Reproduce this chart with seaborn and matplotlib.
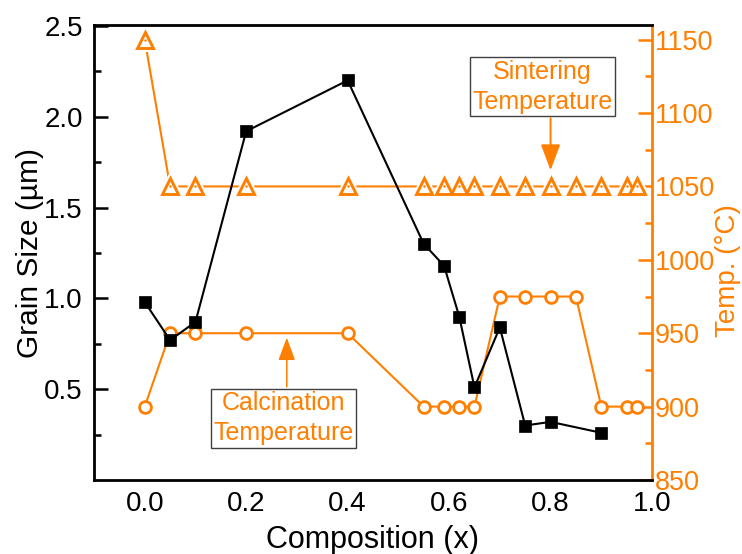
import numpy as np
import pandas as pd
import matplotlib
matplotlib.use("Agg")
import matplotlib.pyplot as plt
import seaborn as sns

# ---- data ----
grain_x = [0.0, 0.05, 0.1, 0.2, 0.4, 0.55, 0.59, 0.62, 0.65, 0.7, 0.75, 0.8, 0.9]
grain_size = [0.98, 0.77, 0.87, 1.92, 2.20, 1.30, 1.18, 0.90, 0.51, 0.84, 0.30, 0.32, 0.26]

temp_x = [0.0, 0.05, 0.1, 0.2, 0.4, 0.55, 0.59, 0.62, 0.65, 0.7, 0.75, 0.8, 0.85, 0.9, 0.95, 0.97]
sintering_temp = [1150, 1050, 1050, 1050, 1050, 1050, 1050, 1050, 1050, 1050, 1050, 1050, 1050, 1050, 1050, 1050]
calcination_temp = [900, 950, 950, 950, 950, 900, 900, 900, 900, 975, 975, 975, 975, 900, 900, 900]

x_ticks = [0.0, 0.2, 0.4, 0.6, 0.8, 1.0]
x_minor = [0.1, 0.3, 0.5, 0.7, 0.9]
left_ticks = [0.5, 1.0, 1.5, 2.0, 2.5]
left_minor = [0.25, 0.75, 1.25, 1.75, 2.25]
right_ticks = [850, 900, 950, 1000, 1050, 1100, 1150]
right_minor = [875, 925, 975, 1025, 1075, 1125]

ORANGE = "#FF7F00"

sns.set_theme(style="white")
plt.rcParams["font.family"] = ["Liberation Sans", "DejaVu Sans"]

grain_df = pd.DataFrame({"x": grain_x, "size": grain_size})
temp_df = pd.DataFrame({"x": temp_x, "sint": sintering_temp, "calc": calcination_temp})

W, H = 742, 554
fig = plt.figure(figsize=(W / 100, H / 100), dpi=100)
ax = fig.add_axes([94 / W, 74 / H, 558 / W, 455 / H])
ax2 = ax.twinx()
ax.set_zorder(ax2.get_zorder() + 1)
ax.patch.set_visible(False)

# grain size (left axis)
sns.lineplot(data=grain_df, x="x", y="size", ax=ax, sort=False, color="black",
             lw=1.5, marker="s", markersize=8.8, markerfacecolor="black",
             markeredgecolor="black", markeredgewidth=0.5, zorder=5)

# sintering temperature (right axis) with Origin-like gaps around markers
sns.lineplot(data=temp_df, x="x", y="sint", ax=ax2, sort=False, color=ORANGE,
             lw=1.5, zorder=2)
sns.lineplot(data=temp_df, x="x", y="sint", ax=ax2, sort=False, color="white",
             linestyle="", marker="^", markersize=11, markerfacecolor="white",
             markeredgecolor="white", markeredgewidth=5, zorder=3)
sns.lineplot(data=temp_df, x="x", y="sint", ax=ax2, sort=False, color=ORANGE,
             linestyle="", marker="^", markersize=11, markerfacecolor="white",
             markeredgecolor=ORANGE, markeredgewidth=2.1, zorder=4)
sns.lineplot(data=temp_df, x="x", y="sint", ax=ax2, sort=False, color=ORANGE,
             linestyle="", marker="o", markersize=1.8, markerfacecolor=ORANGE,
             markeredgecolor=ORANGE, markeredgewidth=0, zorder=4)

# calcination temperature (right axis)
sns.lineplot(data=temp_df, x="x", y="calc", ax=ax2, sort=False, color=ORANGE,
             lw=1.5, marker="o", markersize=8.5, markerfacecolor="white",
             markeredgecolor=ORANGE, markeredgewidth=2.0, zorder=4)

# axes limits / ticks
ax.set_xlim(-0.1, 1.0)
ax.set_ylim(0.0, 2.505)
ax2.set_ylim(850, 1160)
ax.set_xticks(x_ticks)
ax.set_xticks(x_minor, minor=True)
ax.set_xticklabels([f"{v:.1f}" for v in x_ticks])
ax.set_yticks(left_ticks)
ax.set_yticks(left_minor, minor=True)
ax.set_yticklabels([f"{v:.1f}" for v in left_ticks])
ax2.set_yticks(right_ticks)
ax2.set_yticks(right_minor, minor=True)
ax2.set_yticklabels([str(v) for v in right_ticks])

ax.tick_params(axis="both", which="major", direction="in", length=10, width=1.8,
               labelsize=20, color="black", labelcolor="black", pad=8)
ax.tick_params(axis="both", which="minor", direction="in", length=5, width=1.8,
               color="black")
ax.tick_params(axis="y", which="both", right=False)
ax.tick_params(axis="x", which="both", top=False)
ax2.tick_params(axis="y", which="major", direction="in", length=10, width=1.8,
                labelsize=19.5, color=ORANGE, labelcolor=ORANGE, pad=2)
ax2.tick_params(axis="y", which="minor", direction="in", length=5, width=1.8,
                color=ORANGE)

for s in ["left", "bottom", "top"]:
    ax.spines[s].set_color("black")
    ax.spines[s].set_linewidth(2.0)
ax.spines["right"].set_visible(False)
for s in ["left", "bottom", "top"]:
    ax2.spines[s].set_visible(False)
ax2.spines["right"].set_color(ORANGE)
ax2.spines["right"].set_linewidth(2.0)

ax.set_xlabel("Composition (x)", fontsize=22, color="black", labelpad=6)
ax.set_ylabel("Grain Size (\u00b5m)", fontsize=21.5, color="black", labelpad=0)
ax2.set_ylabel("Temp. (\u00b0C)", fontsize=20, color=ORANGE)
ax2.yaxis.set_label_coords((715 - 94) / 558, 0.46)

box = dict(boxstyle="square,pad=0.1", facecolor="white", edgecolor="#404040", lw=1.0)

# annotations
ax2.text(0.784, 1118, "Sintering\nTemperature", ha="center", va="center",
         fontsize=18, color=ORANGE, bbox=box, linespacing=1.33, zorder=10)
ax2.annotate("", xy=(0.8, 1061), xytext=(0.8, 1096.5),
             arrowprops=dict(arrowstyle="-|>,head_length=0.8,head_width=0.3",
                             mutation_scale=20, color=ORANGE, lw=1.4,
                             shrinkA=0, shrinkB=0), zorder=10)
ax2.text(0.274, 892, "Calcination\nTemperature", ha="center", va="center",
         fontsize=18, color=ORANGE, bbox=box, linespacing=1.33, zorder=10)
ax2.annotate("", xy=(0.28, 947), xytext=(0.28, 913.5),
             arrowprops=dict(arrowstyle="-|>,head_length=0.7,head_width=0.26",
                             mutation_scale=20, color=ORANGE, lw=1.1,
                             shrinkA=0, shrinkB=0), zorder=10)

ax.get_legend() and ax.get_legend().remove()
ax2.get_legend() and ax2.get_legend().remove()

fig.savefig("out.png", dpi=100)
